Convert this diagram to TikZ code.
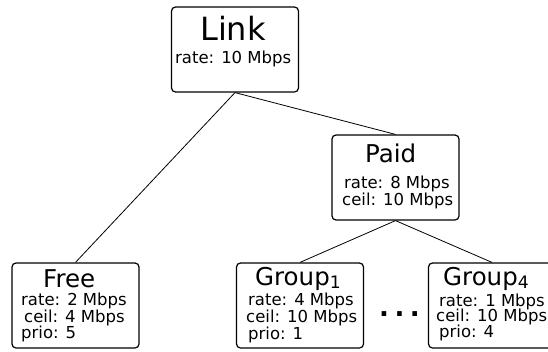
\documentclass[tikz,border=0pt]{standalone}
\usepackage{fontspec}
\setmainfont{DejaVu Sans}
\tikzset{
  box/.style={draw, line width=1.2pt, rounded corners=4pt, minimum width=127pt, minimum height=85pt, inner sep=0pt},
  edge/.style={line width=0.8pt},
  small/.style={anchor=base west, inner sep=0pt, font=\fontsize{16.5}{19}\selectfont},
  title/.style={anchor=base west, inner sep=0pt, font=\fontsize{24.5}{28}\selectfont},
  big/.style={anchor=base west, inner sep=0pt, font=\fontsize{32}{36}\selectfont}
}
\begin{document}
\begin{tikzpicture}[x=1pt,y=-1pt]
\useasboundingbox (0,0) rectangle (548,351);
% boxes
\node[box] (link) at (235,49.5) {};
\node[box] (paid) at (395.5,177.5) {};
\node[box] (free) at (75.5,305.5) {};
\node[box] (g1) at (300,305.5) {};
\node[box] (g4) at (492,305.5) {};
% connectors
\draw[edge] (link.south) -- (free.north);
\draw[edge] (link.south) -- (paid.north);
\draw[edge] (paid.south) -- (g1.north);
\draw[edge] (paid.south) -- (g4.north);
% texts
\node[big] (linkt) at (200,40) {Link};
\node[small] (linkr) at (175,63) {rate: 10 Mbps};
\node[title] (paidt) at (365,162) {Paid};
\node[small] (paidr) at (344,188) {rate: 8 Mbps};
\node[small] (paidc) at (342,205) {ceil: 10 Mbps};
\node[title] (freet) at (43,287) {Free};
\node[small] (freer) at (21,305) {rate: 2 Mbps};
\node[small] (freec) at (24,322) {ceil: 4 Mbps};
\node[small] (freep) at (21,338) {prio: 5};
\node[title] (g1t) at (255,285) {Group\textsubscript{1}};
\node[small] (g1r) at (248,305.5) {rate: 4 Mbps};
\node[small] (g1c) at (246,322) {ceil: 10 Mbps};
\node[small] (g1p) at (248,339) {prio: 1};
\node[title] (g4t) at (443,285) {Group\textsubscript{4}};
\node[small] (g4r) at (439,306) {rate: 1 Mbps};
\node[small] (g4c) at (436,321.5) {ceil: 10 Mbps};
\node[small] (g4p) at (439,337.5) {prio: 4};
\node[anchor=base west, inner sep=0pt, font=\fontsize{26}{30}\selectfont\bfseries] (dots) at (379,316) {.\kern5.5pt.\kern5.5pt.};
\end{tikzpicture}
\end{document}
